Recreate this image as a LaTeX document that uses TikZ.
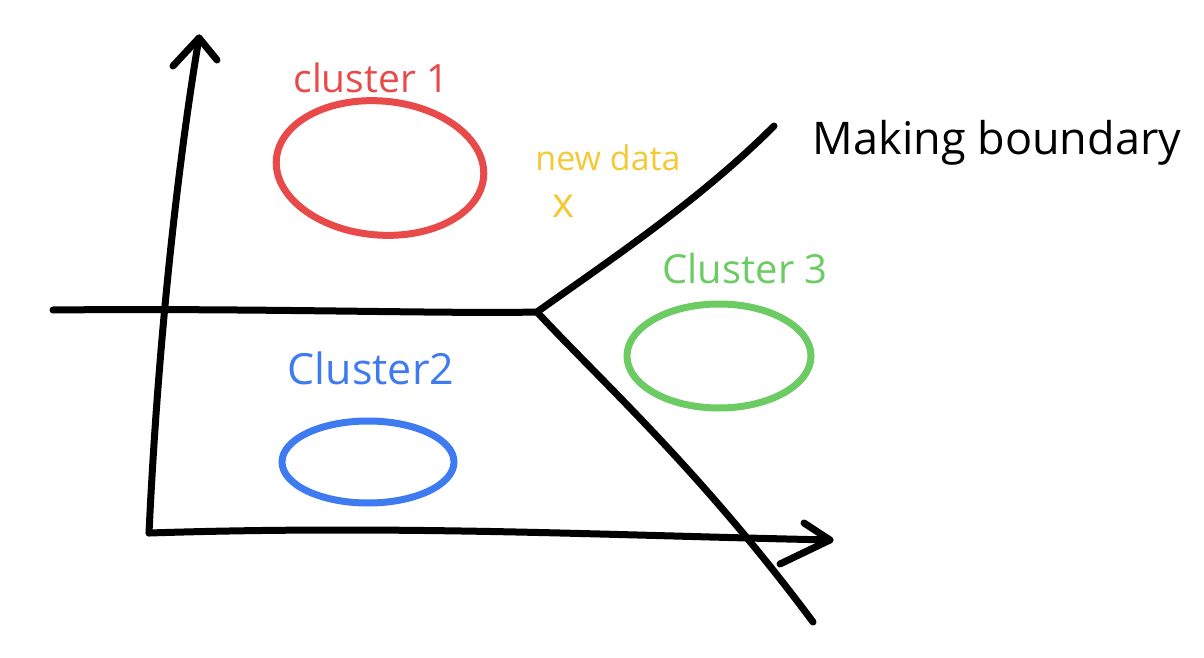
\documentclass[tikz,border=0pt]{standalone}
\usepackage{fontspec}
\setmainfont{Open Sans}
\usetikzlibrary{shapes.geometric}
\definecolor{cred}{HTML}{E84A4A}
\definecolor{cblue}{HTML}{3F7BF0}
\definecolor{cgreen}{HTML}{6CCB63}
\definecolor{cyellow}{HTML}{F5C935}
\tikzset{
  ink/.style={line width=7pt, line cap=round, line join=round},
  blob/.style={ellipse, draw, line width=7pt, inner sep=0pt},
  lbl/.style={inner sep=0pt, anchor=center}
}
\begin{document}
\begin{tikzpicture}[x=1pt,y=-1pt]
\useasboundingbox (0,0) rectangle (1204,658);
% axes coordinates
\coordinate (origin) at (149,533);
\coordinate (ytip) at (199,38);
\coordinate (yl) at (173,66);
\coordinate (yr) at (217,60);
\coordinate (xtip) at (830,540);
\coordinate (xu) at (804,523);
\coordinate (xd) at (780,564);
\coordinate (hl) at (53,310);
\coordinate (fork) at (537,312);
\coordinate (bup) at (774,126);
\coordinate (bdown) at (813,622);
% axes
\draw[ink] (origin) .. controls (160,300) and (185,120) .. (ytip);
\draw[ink] (yl) -- (ytip) -- (yr);
\draw[ink] (origin) .. controls (400,525) and (600,535) .. (xtip);
\draw[ink] (xu) -- (xtip) -- (xd);
\draw[ink] (hl) .. controls (250,308) and (450,314) .. (fork);
% boundary
\draw[ink] (fork) .. controls (610,260) and (700,200) .. (bup);
\draw[ink] (fork) .. controls (600,380) and (700,470) .. (bdown);
% clusters
\node[blob, draw=cred, minimum width=208pt, minimum height=134pt, rotate=-5] (c1) at (380,168) {};
\node[lbl, text=cred, font=\fontsize{39}{44}\selectfont] (t1) at (371,78) {cluster 1};
\node[blob, draw=cblue, minimum width=172pt, minimum height=82pt] (c2) at (368,462) {};
\node[lbl, text=cblue, font=\fontsize{43}{48}\selectfont] (t2) at (371,368) {Cluster2};
\node[blob, draw=cgreen, minimum width=184pt, minimum height=104pt] (c3) at (719,356) {};
\node[lbl, text=cgreen, font=\fontsize{40}{44}\selectfont] (t3) at (745,268) {Cluster 3};
% new data
\node[lbl, text=cyellow, font=\fontsize{34}{38}\selectfont] (nd) at (608,158) {new data};
\node[lbl, text=cyellow, font=\fontsize{42}{46}\selectfont] (nx) at (563,206) {x};
% boundary label
\node[lbl, font=\fontsize{45}{50}\selectfont] (mb) at (997,143) {Making boundary};
\end{tikzpicture}
\end{document}
